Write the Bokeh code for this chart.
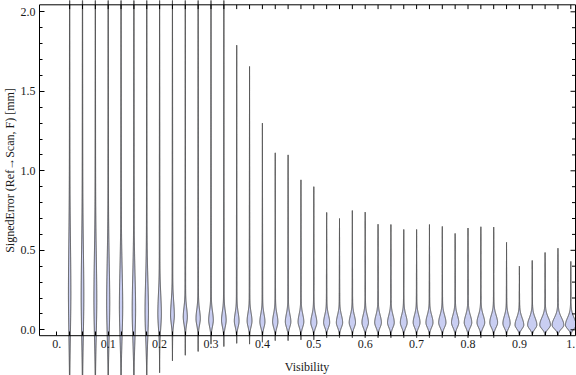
import numpy as np
from bokeh.plotting import figure
from bokeh.models import LinearAxis, FixedTicker, Range1d, Label
from bokeh.embed import file_html
from bokeh.resources import INLINE

# ---------------- data ----------------
positions = [0.025, 0.05, 0.075, 0.1, 0.125, 0.15, 0.175, 0.2, 0.225, 0.25,
             0.275, 0.3, 0.325, 0.35, 0.375, 0.4, 0.425, 0.45, 0.475, 0.5,
             0.525, 0.55, 0.575, 0.6, 0.625, 0.65, 0.675, 0.7, 0.725, 0.75,
             0.775, 0.8, 0.825, 0.85, 0.875, 0.9, 0.925, 0.95, 0.975, 1.0]
# largest signed error of each group (top of each violin)
tops = [3.2, 3.1, 3.0, 2.9, 2.8, 2.75, 2.7, 2.6, 2.5, 2.45,
        2.4, 2.3, 2.2, 1.79, 1.656, 1.30, 1.113, 1.10, 0.943, 0.90,
        0.738, 0.70, 0.75, 0.74, 0.664, 0.662, 0.631, 0.631, 0.662, 0.65,
        0.606, 0.64, 0.648, 0.646, 0.55, 0.40, 0.436, 0.486, 0.513, 0.43]
# smallest signed error of each group (bottom of each violin)
bottoms = [-0.45, -0.44, -0.42, -0.40, -0.38, -0.36, -0.33, -0.27, -0.195, -0.16,
           -0.136, -0.09, -0.105, -0.085, -0.09, -0.078, -0.068, -0.068, -0.063, -0.063,
           -0.05, -0.05, -0.05, -0.05, -0.05, -0.05, -0.05, -0.05, -0.05, -0.05,
           -0.05, -0.05, -0.05, -0.05, -0.045, -0.035, -0.035, -0.035, -0.035, -0.035]
# most frequent error (height of the widest point)
modes = [0.22, 0.20, 0.18, 0.16, 0.14, 0.12, 0.11, 0.10, 0.09, 0.08,
         0.07, 0.06, 0.06, 0.055, 0.055, 0.05, 0.05, 0.05, 0.05, 0.045,
         0.045, 0.045, 0.045, 0.045, 0.045, 0.045, 0.045, 0.045, 0.045, 0.045,
         0.045, 0.045, 0.045, 0.045, 0.04, 0.03, 0.03, 0.03, 0.03, 0.03]
# relative peak density of each group
peak_density = [0.16, 0.18, 0.20, 0.22, 0.24, 0.25, 0.25, 0.26, 0.28, 0.31,
                0.33, 0.36, 0.36, 0.37, 0.38, 0.40, 0.42, 0.44, 0.46, 0.49,
                0.49, 0.51, 0.51, 0.53, 0.55, 0.55, 0.56, 0.56, 0.58, 0.60,
                0.60, 0.62, 0.64, 0.65, 0.60, 0.73, 0.78, 0.91, 1.0, 0.91]
# spread of the density above / below the mode
spread_up = [0.32, 0.30, 0.28, 0.26, 0.24, 0.22, 0.20, 0.12, 0.085, 0.058,
             0.054, 0.055, 0.053, 0.05, 0.05, 0.048, 0.048, 0.048, 0.047, 0.047,
             0.046, 0.046, 0.046, 0.046, 0.046, 0.046, 0.046, 0.046, 0.046, 0.046,
             0.046, 0.046, 0.046, 0.046, 0.045, 0.045, 0.045, 0.045, 0.045, 0.045]
spread_down = [0.25, 0.24, 0.22, 0.20, 0.19, 0.18, 0.16, 0.09, 0.052, 0.045,
               0.04, 0.04, 0.04, 0.036, 0.036, 0.035, 0.035, 0.033, 0.033, 0.03,
               0.03, 0.03, 0.03, 0.03, 0.03, 0.03, 0.03, 0.03, 0.03, 0.03,
               0.03, 0.03, 0.03, 0.03, 0.028, 0.024, 0.024, 0.024, 0.024, 0.024]

x_ticks = [0.0, 0.1, 0.2, 0.3, 0.4, 0.5, 0.6, 0.7, 0.8, 0.9, 1.0]
x_tick_labels = ["0.", "0.1", "0.2", "0.3", "0.4", "0.5", "0.6", "0.7", "0.8", "0.9", "1."]
y_ticks = [0.0, 0.5, 1.0, 1.5, 2.0]
y_tick_labels = ["0.0", "0.5", "1.0", "1.5", "2.0"]
y_minor = [0.1, 0.2, 0.3, 0.4, 0.6, 0.7, 0.8, 0.9, 1.1, 1.2, 1.3, 1.4,
           1.6, 1.7, 1.8, 1.9]

x_title = "Visibility"
y_title = "SignedError (Ref\u2192Scan, F) [mm]"

# ---------------- layout / style ----------------
W, H = 576, 375
PX_X, PX_Y = 514.0, 159.0        # pixels per data unit
X0, Y0 = 56.3, 329.3             # pixel position of data (0, 0) from top-left
xr = Range1d(-X0 / PX_X, (W - X0) / PX_X)
yr = Range1d(-(H - Y0) / PX_Y, Y0 / PX_Y)
F_LEFT, F_RIGHT = (39 - X0) / PX_X, (575 - X0) / PX_X
F_BOTTOM, F_TOP = -(335.2 - Y0) / PX_Y, (Y0 - 4.3) / PX_Y

FONT = "Liberation Serif"
TXT = "#1a1a1a"
MAX_HALF = 5.5 / PX_X            # half-width of the densest violin
TAIL_HALF = 0.35 / PX_X
FILL = "#c9cef2"
EDGE = "#4a4a4a"

p = figure(width=W, height=H, x_range=xr, y_range=yr,
           x_axis_type=None, y_axis_type=None,
           output_backend="svg", toolbar_location=None,
           min_border=0, outline_line_color=None,
           background_fill_color="white", border_fill_color="white")
p.grid.visible = False

# ---------------- violins ----------------
xs, ys = [], []
for pos, top, bot, m, d, su, sd in zip(positions, tops, bottoms, modes,
                                       peak_density, spread_up, spread_down):
    y = np.linspace(bot, top, 900)
    s = np.where(y >= m, su, sd)
    bulb = d * MAX_HALF * np.exp(-0.5 * ((y - m) / s) ** 2)
    taper = np.where(y >= m, (top - y) / (top - m), (y - bot) / (m - bot))
    hw = bulb + TAIL_HALF * np.clip(taper, 0, 1)
    xs.append(np.concatenate([pos + hw, (pos - hw)[::-1]]))
    ys.append(np.concatenate([y, y[::-1]]))

p.patches(xs, ys, fill_color=FILL, line_color=EDGE, line_width=1.0)

# ---------------- frame ----------------
p.quad(left=[F_LEFT], right=[F_RIGHT], bottom=[F_BOTTOM], top=[F_TOP],
       fill_color=None, line_color="black", line_width=1)

# top ticks at each category, right ticks mirroring the left axis
tl = 4.3 / PX_Y
p.segment(x0=positions, y0=[F_TOP] * len(positions),
          x1=positions, y1=[F_TOP - tl] * len(positions),
          line_color="black", line_width=1)
rmaj = 5.0 / PX_X
rmin = 3.5 / PX_X
p.segment(x0=[F_RIGHT] * len(y_ticks), y0=y_ticks,
          x1=[F_RIGHT - rmaj] * len(y_ticks), y1=y_ticks,
          line_color="black", line_width=1)
p.segment(x0=[F_RIGHT] * len(y_minor), y0=y_minor,
          x1=[F_RIGHT - rmin] * len(y_minor), y1=y_minor,
          line_color="black", line_width=1)

# ---------------- axes ----------------
xaxis = LinearAxis(fixed_location=F_BOTTOM,
                   ticker=FixedTicker(ticks=x_ticks,
                                      minor_ticks=[v for v in positions if round(v * 10, 6) % 1 != 0]),
                   major_label_overrides=dict(zip(x_ticks, x_tick_labels)),
                   axis_line_color=None,
                   major_tick_in=4, major_tick_out=0,
                   minor_tick_in=4, minor_tick_out=0,
                   major_tick_line_color="black", minor_tick_line_color="black",
                   major_label_standoff=4,
                   major_label_text_font=FONT, major_label_text_font_size="12px",
                   major_label_text_color=TXT)
p.add_layout(xaxis, "below")

yaxis = LinearAxis(fixed_location=F_LEFT,
                   ticker=FixedTicker(ticks=y_ticks, minor_ticks=y_minor),
                   major_label_overrides=dict(zip(y_ticks, y_tick_labels)),
                   axis_line_color=None,
                   major_tick_in=5, major_tick_out=0,
                   minor_tick_in=3, minor_tick_out=0,
                   major_tick_line_color="black", minor_tick_line_color="black",
                   major_label_standoff=4,
                   major_label_text_font=FONT, major_label_text_font_size="12px",
                   major_label_text_color=TXT)
p.add_layout(yaxis, "left")

p.add_layout(Label(x=(306.5 - X0) / PX_X, y=(Y0 - 366) / PX_Y, text=x_title,
                   text_align="center", text_baseline="middle",
                   text_font=FONT, text_font_size="12px", text_color=TXT))
p.add_layout(Label(x=(9.5 - X0) / PX_X, y=(Y0 - 170) / PX_Y, text=y_title,
                   angle=np.pi / 2, text_align="center", text_baseline="middle",
                   text_font=FONT, text_font_size="12px", text_color=TXT))

open("out.html", "w").write(file_html(p, INLINE))
